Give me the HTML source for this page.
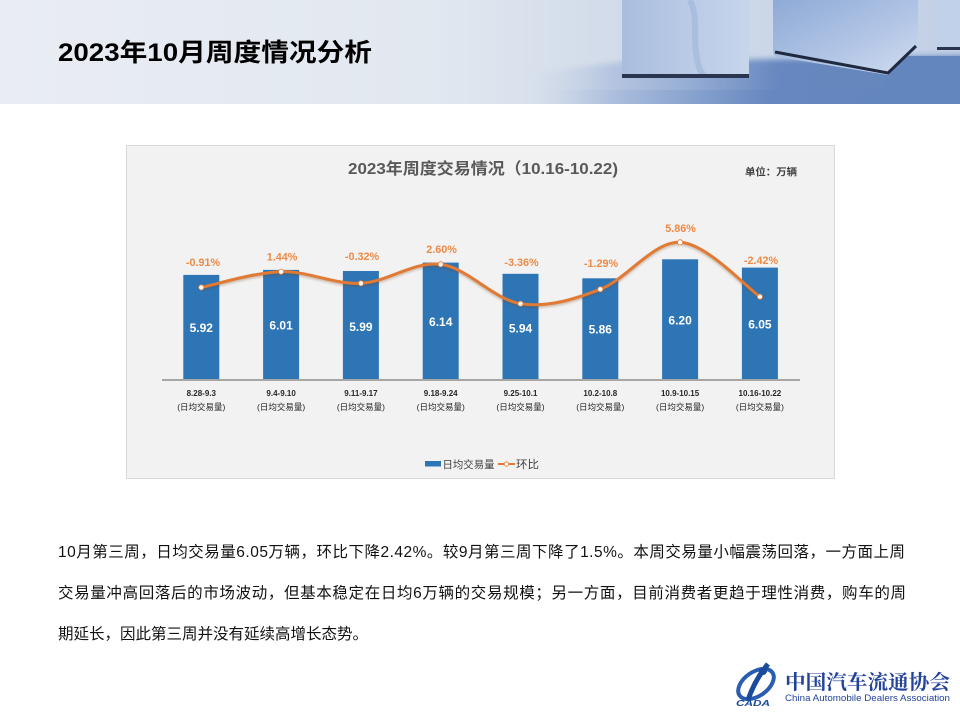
<!DOCTYPE html>
<html><head><meta charset="utf-8">
<style>
html,body{margin:0;padding:0;background:#fff;}
svg{display:block;}
</style></head>
<body>
<svg width="960" height="720" viewBox="0 0 960 720" xmlns="http://www.w3.org/2000/svg">
<defs>
<clipPath id="hclip"><rect x="0" y="0" width="960" height="104"/></clipPath>
<linearGradient id="hbg" x1="0" y1="0" x2="1" y2="0">
<stop offset="0" stop-color="#e9edf3"/>
<stop offset="0.45" stop-color="#e2e8f0"/>
<stop offset="0.62" stop-color="#d3dcea"/>
<stop offset="1" stop-color="#c2d0e6"/>
</linearGradient>
<linearGradient id="floor" x1="0" y1="0" x2="1" y2="0">
<stop offset="0" stop-color="#c9d5e7" stop-opacity="0"/>
<stop offset="0.2" stop-color="#9fb5d9" stop-opacity="0.6"/>
<stop offset="0.55" stop-color="#6687bf"/>
<stop offset="1" stop-color="#6386be"/>
</linearGradient>
<linearGradient id="cube1" x1="0" y1="0" x2="1" y2="0">
<stop offset="0" stop-color="#a9bddd"/>
<stop offset="0.5" stop-color="#b9cae6"/>
<stop offset="1" stop-color="#c7d5ec"/>
</linearGradient>
<linearGradient id="cube2" x1="0" y1="0" x2="1" y2="1">
<stop offset="0" stop-color="#8eaad6"/>
<stop offset="0.6" stop-color="#b3c6e6"/>
<stop offset="1" stop-color="#d2def0"/>
</linearGradient>
<filter id="sh" x="-10%" y="-10%" width="120%" height="140%">
<feGaussianBlur stdDeviation="1.2"/>
</filter>
<filter id="bl" x="-10%" y="-10%" width="120%" height="120%">
<feGaussianBlur stdDeviation="3"/>
</filter>
</defs>

<!-- Header -->
<g clip-path="url(#hclip)">
<rect x="0" y="0" width="960" height="104" fill="url(#hbg)"/>
<path d="M520,75 L620,62 L990,55 L990,120 L520,120 Z" fill="url(#floor)" filter="url(#bl)"/>
<rect x="540" y="90" width="420" height="14" fill="url(#floor)"/>
<rect x="900" y="56" width="60" height="48" fill="#6386be"/>
<!-- cube 1 -->
<rect x="622" y="0" width="127" height="77" fill="url(#cube1)"/>
<path d="M690,0 C700,20 690,40 700,70 L705,77" stroke="#9fb4d8" stroke-width="6" fill="none" opacity="0.6"/>
<rect x="622" y="74" width="127" height="4" fill="#2a3550"/>
<!-- cube 2 -->
<path d="M773,0 L918,0 L918,45 L888,75 L778,57 C774,56 773,54 773,50 Z" fill="url(#cube2)"/>
<path d="M775,52 L888,73 L916,46" stroke="#1f2a40" stroke-width="3" fill="none"/>
<!-- cube 3 -->
<rect x="937" y="0" width="23" height="50" fill="#c2d1ea"/>
<rect x="937" y="47" width="23" height="3" fill="#2a3550"/>
</g>

<text x="58" y="61" font-family="'Liberation Sans','Noto Sans CJK SC',sans-serif" font-size="25" font-weight="bold" fill="#000" textLength="314" lengthAdjust="spacingAndGlyphs">2023年10月周度情况分析</text>

<!-- Chart box -->
<rect x="126.5" y="145.5" width="708" height="333" fill="#f2f2f2" stroke="#d9d9d9" stroke-width="1"/>
<text x="348" y="174" font-family="'Liberation Sans','Noto Sans CJK SC',sans-serif" font-size="16" font-weight="bold" fill="#595959" textLength="270" lengthAdjust="spacingAndGlyphs">2023年周度交易情况（10.16-10.22)</text>
<text x="745" y="175.5" font-family="'Liberation Sans','Noto Sans CJK SC',sans-serif" font-size="10" font-weight="bold" fill="#404040" textLength="52" lengthAdjust="spacingAndGlyphs">单位：万辆</text>

<!-- Bars -->
<g fill="#2e75b6">
<rect x="183.3" y="274.9" width="36" height="105.1"/>
<rect x="263.1" y="269.9" width="36" height="110.1"/>
<rect x="342.9" y="271.0" width="36" height="109.0"/>
<rect x="422.7" y="262.6" width="36" height="117.4"/>
<rect x="502.5" y="273.8" width="36" height="106.2"/>
<rect x="582.3" y="278.3" width="36" height="101.7"/>
<rect x="662.1" y="259.3" width="36" height="120.7"/>
<rect x="741.9" y="267.6" width="36" height="112.4"/>
</g>
<line x1="162" y1="380" x2="800" y2="380" stroke="#a6a6a6" stroke-width="2"/>

<!-- Value labels -->
<g font-family="'Liberation Sans',sans-serif" font-size="12" font-weight="bold" fill="#fff" text-anchor="middle">
<text x="201.3" y="332">5.92</text>
<text x="281.1" y="329.6">6.01</text>
<text x="360.9" y="331">5.99</text>
<text x="440.7" y="326">6.14</text>
<text x="520.5" y="332.6">5.94</text>
<text x="600.3" y="333.6">5.86</text>
<text x="680.1" y="324.3">6.20</text>
<text x="759.9" y="328.3">6.05</text>
</g>

<!-- Line -->
<path d="M201.3,287.4 C214.6,284.78 254.5,272.38 281.1,271.7 C307.7,271.02 334.3,284.53 360.9,283.3 C387.5,282.07 414.1,260.9 440.7,264.3 C467.3,267.7 493.9,299.53 520.5,303.7 C547.1,307.87 573.7,299.53 600.3,289.3 C626.9,279.07 653.5,241.07 680.1,242.3 C706.7,243.53 746.6,287.63 759.9,296.7" fill="none" stroke="#7a3f12" stroke-width="3" opacity="0.35" filter="url(#sh)" transform="translate(0,1.5)"/>
<path d="M201.3,287.4 C214.6,284.78 254.5,272.38 281.1,271.7 C307.7,271.02 334.3,284.53 360.9,283.3 C387.5,282.07 414.1,260.9 440.7,264.3 C467.3,267.7 493.9,299.53 520.5,303.7 C547.1,307.87 573.7,299.53 600.3,289.3 C626.9,279.07 653.5,241.07 680.1,242.3 C706.7,243.53 746.6,287.63 759.9,296.7" fill="none" stroke="#e07a35" stroke-width="3"/>
<g fill="#fff" stroke="#e07a35" stroke-width="0.8">
<circle cx="201.3" cy="287.4" r="2.6"/>
<circle cx="281.1" cy="271.7" r="2.6"/>
<circle cx="360.9" cy="283.3" r="2.6"/>
<circle cx="440.7" cy="264.3" r="2.6"/>
<circle cx="520.5" cy="303.7" r="2.6"/>
<circle cx="600.3" cy="289.3" r="2.6"/>
<circle cx="680.1" cy="242.3" r="2.6"/>
<circle cx="759.9" cy="296.7" r="2.6"/>
</g>

<!-- Pct labels -->
<g font-family="'Liberation Sans',sans-serif" font-size="10.8" font-weight="bold" fill="#ee8a45" text-anchor="middle">
<text x="203" y="266.2">-0.91%</text>
<text x="282" y="260.6">1.44%</text>
<text x="362" y="259.9">-0.32%</text>
<text x="441.5" y="253.2">2.60%</text>
<text x="521.5" y="266.2">-3.36%</text>
<text x="601" y="267.2">-1.29%</text>
<text x="680.5" y="232.2">5.86%</text>
<text x="761" y="264.2">-2.42%</text>
</g>

<!-- Category labels -->
<g font-family="'Liberation Sans','Noto Sans CJK SC',sans-serif" font-size="8" font-weight="bold" fill="#262626" text-anchor="middle">
<text x="201.3" y="396.2">8.28-9.3</text>
<text x="281.1" y="396.2">9.4-9.10</text>
<text x="360.9" y="396.2">9.11-9.17</text>
<text x="440.7" y="396.2">9.18-9.24</text>
<text x="520.5" y="396.2">9.25-10.1</text>
<text x="600.3" y="396.2">10.2-10.8</text>
<text x="680.1" y="396.2">10.9-10.15</text>
<text x="759.9" y="396.2">10.16-10.22</text>
</g>
<g font-family="'Liberation Sans','Noto Sans CJK SC',sans-serif" font-size="8.5" fill="#262626" text-anchor="middle">
<text x="201.3" y="410">(日均交易量)</text>
<text x="281.1" y="410">(日均交易量)</text>
<text x="360.9" y="410">(日均交易量)</text>
<text x="440.7" y="410">(日均交易量)</text>
<text x="520.5" y="410">(日均交易量)</text>
<text x="600.3" y="410">(日均交易量)</text>
<text x="680.1" y="410">(日均交易量)</text>
<text x="759.9" y="410">(日均交易量)</text>
</g>

<!-- Legend -->
<rect x="425" y="461" width="16" height="5.5" fill="#2e75b6"/>
<text x="442.5" y="468" font-family="'Liberation Sans','Noto Sans CJK SC',sans-serif" font-size="10.5" fill="#404040" textLength="52" lengthAdjust="spacingAndGlyphs">日均交易量</text>
<line x1="498" y1="464" x2="515" y2="464" stroke="#e07a35" stroke-width="2"/>
<circle cx="506.5" cy="464" r="2.2" fill="#fff" stroke="#e07a35" stroke-width="0.8"/>
<text x="516" y="468" font-family="'Liberation Sans','Noto Sans CJK SC',sans-serif" font-size="11" fill="#404040" textLength="23" lengthAdjust="spacingAndGlyphs">环比</text>

<!-- Paragraph -->
<g font-family="'Liberation Sans','Noto Sans CJK SC',sans-serif" font-size="15.5" fill="#111">
<text x="58" y="557" textLength="847" lengthAdjust="spacing">10月第三周，日均交易量6.05万辆，环比下降2.42%。较9月第三周下降了1.5%。本周交易量小幅震荡回落，一方面上周</text>
<text x="58" y="598" textLength="848" lengthAdjust="spacing">交易量冲高回落后的市场波动，但基本稳定在日均6万辆的交易规模；另一方面，目前消费者更趋于理性消费，购车的周</text>
<text x="58" y="639">期延长，因此第三周并没有延续高增长态势。</text>
</g>

<!-- Logo -->
<g>
<ellipse cx="756" cy="684" rx="20" ry="12" fill="none" stroke="#2a5db0" stroke-width="4" transform="rotate(-35 756 684)"/>
<path d="M748,700 C752,688 758,676 768,664" stroke="#1b4b9c" stroke-width="5" fill="none"/>
<circle cx="763" cy="671" r="4" fill="#1b4b9c"/>
<text x="736" y="706" font-family="'Liberation Sans',sans-serif" font-size="8" font-weight="bold" font-style="italic" fill="#1b4b9c" textLength="34" lengthAdjust="spacingAndGlyphs">CADA</text>
</g>
<text x="785" y="689" font-family="'Liberation Serif','Noto Serif CJK SC',serif" font-size="20" font-weight="bold" fill="#23439a" textLength="165" lengthAdjust="spacingAndGlyphs">中国汽车流通协会</text>
<text x="785" y="701" font-family="'Liberation Sans',sans-serif" font-size="9.5" fill="#23439a" textLength="165" lengthAdjust="spacingAndGlyphs">China Automobile Dealers Association</text>
</svg>
</body></html>
